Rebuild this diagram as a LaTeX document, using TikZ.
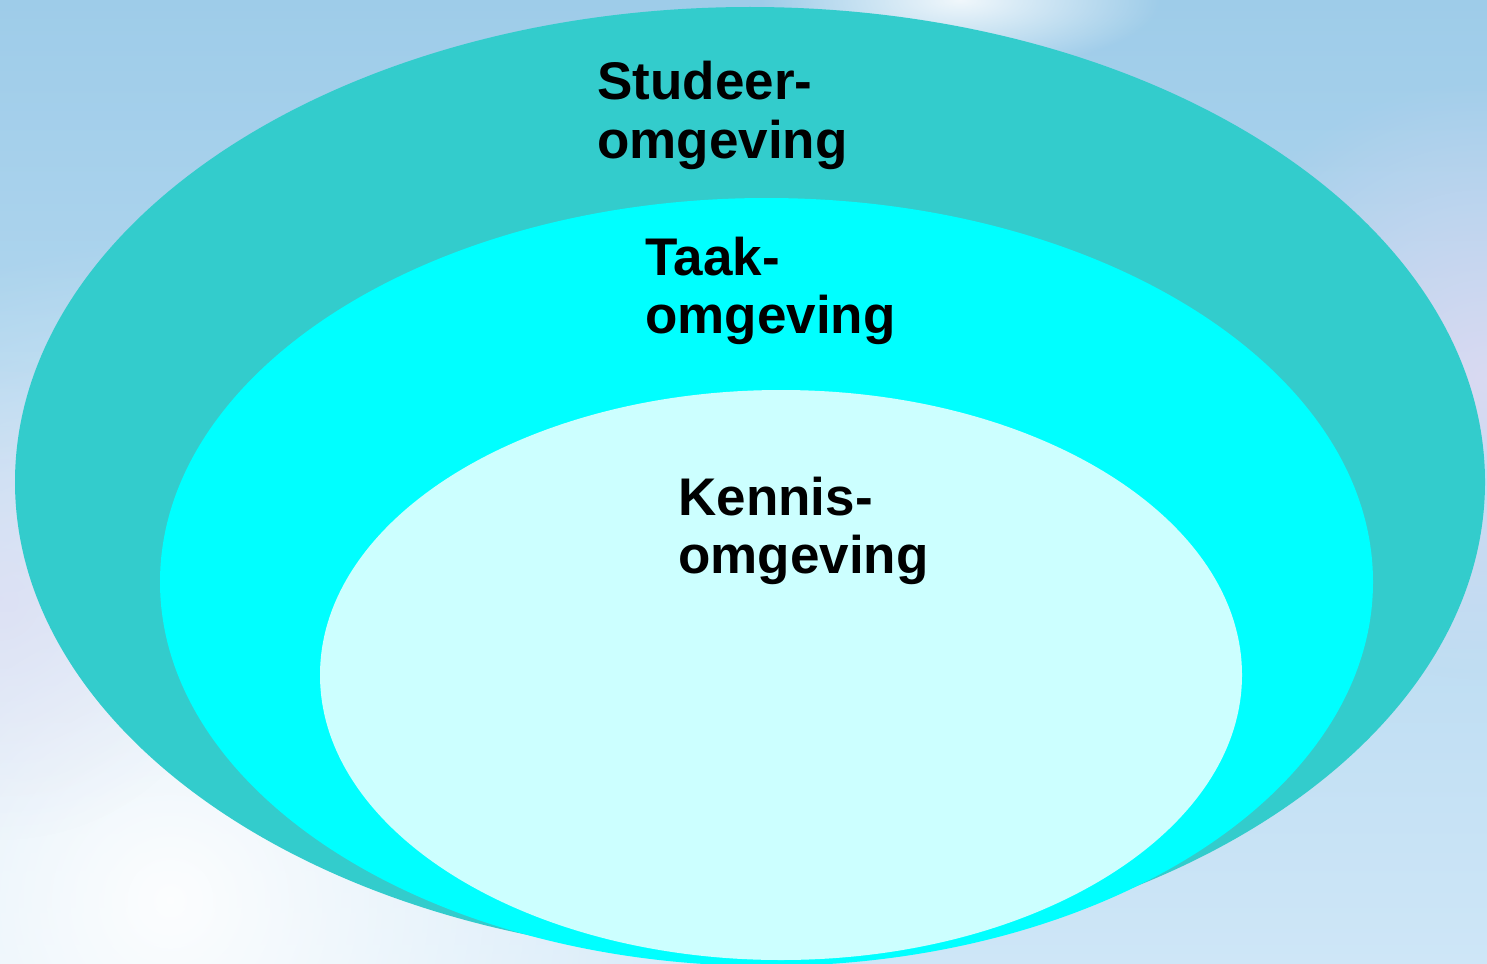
\documentclass[tikz,border=0pt]{standalone}
\usepackage{fontspec}
\setmainfont{Liberation Sans}
\usetikzlibrary{fadings}

\definecolor{skytop}{RGB}{158,204,233}
\definecolor{skybottom}{RGB}{206,230,247}
\definecolor{lavender}{RGB}{222,218,242}
\definecolor{studeer}{RGB}{51,204,204}
\definecolor{taak}{RGB}{0,255,255}
\definecolor{kennis}{RGB}{204,255,255}

\tikzfading[name=softglow, inner color=transparent!0, outer color=transparent!100]

\tikzset{
  label/.style={anchor=base west, inner sep=0pt, align=left,
    font=\bfseries\fontsize{26.5pt}{29pt}\selectfont, text=black},
  glow/.style={path fading=softglow}
}

\begin{document}
\begin{tikzpicture}[x=0.5pt, y=-0.5pt]
  % sky background
  \shade[top color=skytop, bottom color=skybottom] (0,0) rectangle (1487,963);
  \useasboundingbox (0,0) rectangle (1487,963);
  \begin{scope}
    \clip (0,0) rectangle (1487,963);
    \fill[white, glow, opacity=0.95] (170,900) circle (330pt);
    \fill[lavender, glow, opacity=0.9] (1487,380) circle (150pt);
    \fill[lavender, glow, opacity=0.6] (0,600) circle (120pt);
    \fill[white, glow, opacity=0.85] (960,0) ellipse [x radius=100pt, y radius=35pt];
  \end{scope}

  % nested environments
  \fill[studeer] (750,482) ellipse [x radius=367.5pt, y radius=237.5pt];
  \fill[taak]    (766.5,582) ellipse [x radius=303.25pt, y radius=192pt];
  \fill[kennis]  (781,675) ellipse [x radius=230.5pt, y radius=142.5pt];

  % labels (anchored on the baseline of the last line)
  \node[label] (studeerlbl) at (597,158) {Studeer-\\omgeving};
  \node[label] (taaklbl)    at (645,333) {Taak-\\omgeving};
  \node[label] (kennislbl)  at (678,573) {Kennis-\\omgeving};
\end{tikzpicture}
\end{document}
